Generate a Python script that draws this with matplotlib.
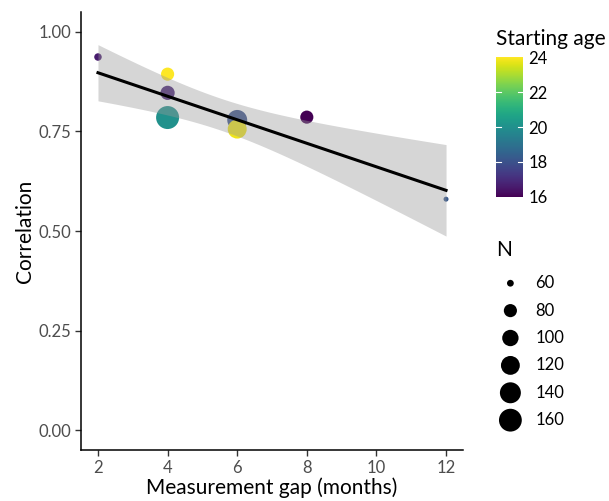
import numpy as np
import matplotlib
matplotlib.use('Agg')
import matplotlib.pyplot as plt
from matplotlib import cm
from matplotlib.colors import Normalize

plt.rcParams['font.family'] = ['Lato', 'DejaVu Sans']

# data
gap_months = [2, 4, 4, 4, 6, 6, 8, 12]
correlation = [0.937, 0.894, 0.847, 0.785, 0.779, 0.756, 0.786, 0.580]
starting_age = [16.6, 24.0, 16.8, 20.0, 18.0, 23.8, 16.0, 18.2]
n_subjects = [61, 80, 86, 162, 130, 121, 80, 59]

y_ticks = [0.0, 0.25, 0.5, 0.75, 1.0]
y_tick_labels = ['0.00', '0.25', '0.50', '0.75', '1.00']
x_ticks = [2, 4, 6, 8, 10, 12]
age_ticks = [16, 18, 20, 22, 24]
n_legend = [60, 80, 100, 120, 140, 160]

DPI = 100
x = np.array(gap_months, float)
y = np.array(correlation, float)
w = np.array(n_subjects, float)
n_min, n_max = w.min(), w.max()


def point_area(n):
    # ggplot-like area scale: diameter in px, returned as area in pt^2
    frac = np.sqrt(np.clip((np.asarray(n, float) - n_min) / (n_max - n_min), 0, 1))
    diam_px = 5 + 18 * frac
    return (diam_px * 72 / DPI) ** 2


# weighted linear fit with 95% confidence band
sw = w.sum()
mx = (w * x).sum() / sw
my = (w * y).sum() / sw
sxx = (w * (x - mx) ** 2).sum()
slope = (w * (x - mx) * (y - my)).sum() / sxx
intercept = my - slope * mx
resid = y - (intercept + slope * x)
sigma2 = (w * resid ** 2).sum() / (len(x) - 2)
t_crit = 2.4469
xs = np.linspace(x.min(), x.max(), 80)
fit = intercept + slope * xs
se = np.sqrt(sigma2 * (1 / sw + (xs - mx) ** 2 / sxx))

fig = plt.figure(figsize=(6.09, 5.01), dpi=DPI)
ax = fig.add_axes([0.1323, 0.1018, 0.6287, 0.8742])

norm = Normalize(16, 24)
ax.scatter(x, y, s=point_area(w), c=starting_age, cmap='viridis', norm=norm,
           linewidths=0, zorder=2)
ax.fill_between(xs, fit - t_crit * se, fit + t_crit * se, color='#999999',
                alpha=0.4, linewidth=0, zorder=3)
ax.plot(xs, fit, color='black', linewidth=2.2, zorder=4)

ax.set_xlim(1.5, 12.5)
ax.set_ylim(-0.05, 1.05)
ax.set_xticks(x_ticks)
ax.set_yticks(y_ticks)
ax.set_yticklabels(y_tick_labels)
for side in ['top', 'right']:
    ax.spines[side].set_visible(False)
for side in ['left', 'bottom']:
    ax.spines[side].set_linewidth(1.1)
ax.tick_params(length=4, width=1, color='#333333', labelsize=12,
               labelcolor='#4D4D4D', pad=3)
ax.set_xlabel('Measurement gap (months)', fontsize=15, labelpad=1)
ax.set_ylabel('Correlation', fontsize=15, labelpad=2)

# colour bar legend
cax = fig.add_axes([0.8144, 0.6068, 0.0443, 0.2794])
cb = fig.colorbar(cm.ScalarMappable(norm=norm, cmap='viridis'), cax=cax,
                  ticks=age_ticks)
cb.outline.set_visible(False)
cax.tick_params(length=0, labelsize=12, pad=4)
for t in age_ticks[1:-1]:
    cax.plot([0, 0.2], [t, t], color='white', linewidth=0.8,
             transform=cax.get_yaxis_transform())
    cax.plot([0.8, 1], [t, t], color='white', linewidth=0.8,
             transform=cax.get_yaxis_transform())
fig.text(0.815, 0.922, 'Starting age', fontsize=15, va='center', ha='left')

# size legend
fig.text(0.815, 0.50, 'N', fontsize=15, va='center', ha='left')
lax = fig.add_axes([0.815, 0.134, 0.14, 0.328])
lax.set_axis_off()
pos = np.arange(len(n_legend))
lax.scatter(np.zeros(len(n_legend)), pos, s=point_area(n_legend),
            color='black', linewidths=0)
for p, label in zip(pos, n_legend):
    lax.text(1.34, p, str(label), fontsize=12, va='center', ha='left')
lax.set_xlim(-0.75, 3.8)
lax.set_ylim(len(n_legend) - 0.5, -0.5)

fig.savefig('out.png', dpi=DPI)
